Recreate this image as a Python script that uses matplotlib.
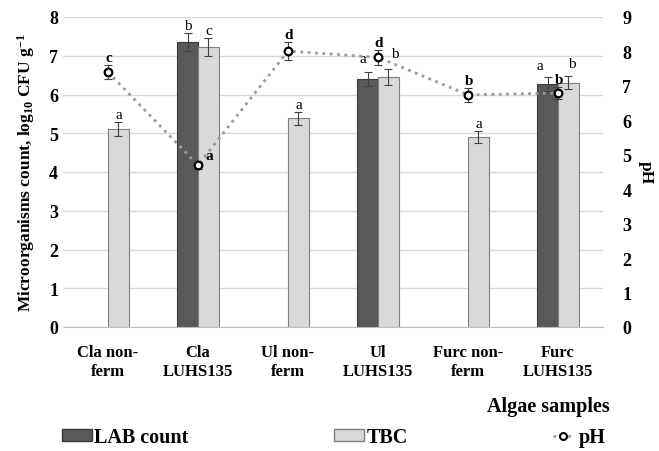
import numpy as np
import matplotlib
matplotlib.use("Agg")
import matplotlib.pyplot as plt
from matplotlib.patches import Patch
from matplotlib.lines import Line2D

# --- data ---
samples = ["Cla non-\nferm", "Cla\nLUHS135", "Ul non-\nferm", "Ul\nLUHS135", "Furc non-\nferm", "Furc\nLUHS135"]
lab = [np.nan, 7.35, np.nan, 6.40, np.nan, 6.27]
lab_err = [np.nan, 0.23, np.nan, 0.18, np.nan, 0.18]
tbc = [5.11, 7.22, 5.39, 6.45, 4.90, 6.30]
tbc_err = [0.18, 0.23, 0.17, 0.20, 0.15, 0.17]
ph = [7.40, 4.70, 8.01, 7.83, 6.74, 6.79]
ph_err = [0.20, 0.10, 0.25, 0.22, 0.20, 0.18]
lab_letters = ["", "b", "", "a", "", "a"]
tbc_letters = ["a", "c", "a", "b", "a", "b"]
ph_letters = ["c", "a", "d", "d", "b", "b"]
left_ticks = list(range(0, 9))
right_ticks = list(range(0, 10))

plt.rcParams['font.family'] = ['Liberation Serif', 'DejaVu Serif']
plt.rcParams['font.weight'] = 'bold'
plt.rcParams['mathtext.fontset'] = 'custom'
plt.rcParams['mathtext.rm'] = 'Liberation Serif:bold'
plt.rcParams['mathtext.default'] = 'rm'

dark = '#595959'
light = '#d9d9d9'

fig = plt.figure(figsize=(6.59, 4.52), dpi=100)
ax = fig.add_axes([63 / 659, 1 - 328 / 452, 540 / 659, 310 / 452])
ax2 = ax.twinx()

x = np.arange(len(samples))
w = 0.233
ax.bar(x - w / 2, lab, w, color=dark, edgecolor='#3a3a3a', linewidth=0.8, zorder=2)
ax.bar(x + w / 2, tbc, w, color=light, edgecolor='#7f7f7f', linewidth=0.8, zorder=2)
ax.errorbar(x - w / 2, lab, yerr=lab_err, fmt='none', ecolor='#404040', elinewidth=0.8, capsize=3, capthick=0.8, zorder=3)
ax.errorbar(x + w / 2, tbc, yerr=tbc_err, fmt='none', ecolor='#404040', elinewidth=0.8, capsize=3, capthick=0.8, zorder=3)

ax.set_xlim(-0.5, 5.5)
ax.set_ylim(0, 8)
ax.set_yticks(left_ticks, labels=[str(v) for v in left_ticks], fontsize=13, fontweight='bold')
ax.yaxis.grid(True, color='#d9d9d9', linewidth=1)
ax.set_axisbelow(True)
for s in ['top', 'left', 'right']:
    ax.spines[s].set_visible(False)
ax.spines['bottom'].set_color('#bfbfbf')
ax.tick_params(axis='both', length=0)
ax.tick_params(axis='x', pad=12)
ax.set_xticks(x, labels=samples, fontsize=12, fontweight='bold', linespacing=1.25)
ax.set_ylabel("Microorganisms count, log$_{10}$ CFU g$^{-1}$", fontsize=12.5, fontweight='bold', labelpad=9)

# pH on the secondary axis
ax2.errorbar(x, ph, yerr=ph_err, fmt='none', ecolor='#404040', elinewidth=0.8, capsize=3, capthick=0.8, zorder=3)
ax2.plot(x, ph, linestyle=':', color='#9a9a9a', linewidth=2, marker='o', markersize=5.5,
         markerfacecolor='white', markeredgecolor='black', markeredgewidth=1.6, zorder=4)
ax2.set_ylim(0, 9)
ax2.set_yticks(right_ticks, labels=[str(v) for v in right_ticks], fontsize=13, fontweight='bold')
for s in ax2.spines.values():
    s.set_visible(False)
ax2.tick_params(axis='y', length=0, pad=14)
ax2.set_ylabel("pH", fontsize=12.5, fontweight='bold', rotation=-90, labelpad=16)

# significance letters (pixel nudges where the reference moved them aside)
lab_nudge = {3: (-5, 10), 5: (-8, 8)}
tbc_nudge = {3: (6, 12), 5: (3, 9)}
ph_nudge = {1: (11, 6)}
for i in range(len(samples)):
    if lab_letters[i]:
        dx, dy = lab_nudge.get(i, (0, 4))
        ax.annotate(lab_letters[i], (x[i] - w / 2, lab[i] + lab_err[i]), xytext=(dx, dy),
                    textcoords='offset pixels', ha='center', va='baseline', fontsize=11, fontweight='normal')
    dx, dy = tbc_nudge.get(i, (0, 4))
    ax.annotate(tbc_letters[i], (x[i] + w / 2, tbc[i] + tbc_err[i]), xytext=(dx, dy),
                textcoords='offset pixels', ha='center', va='baseline', fontsize=11, fontweight='normal')
    if i in ph_nudge:
        dx, dy = ph_nudge[i]
        base = ph[i]
    else:
        dx, dy = (1, 4)
        base = ph[i] + ph_err[i]
    ax2.annotate(ph_letters[i], (x[i], base), xytext=(dx, dy), textcoords='offset pixels',
                 ha='center', va='baseline', fontsize=11, fontweight='bold', zorder=5)

fig.text(610 / 659, 1 - 407 / 452, "Algae samples", ha='right', va='center', fontsize=14.5, fontweight='bold')

# legend entries, placed one by one like the reference
leg_kw = dict(frameon=False, fontsize=14.5, handlelength=1.5, handleheight=0.5, handletextpad=0.1,
              borderpad=0, borderaxespad=0)
l1 = fig.legend([Patch(facecolor=dark, edgecolor='#3a3a3a')], ["LAB count"],
                loc='center left', bbox_to_anchor=(62 / 659, 1 - 438 / 452), **leg_kw)
l2 = fig.legend([Patch(facecolor=light, edgecolor='#7f7f7f')], ["TBC"],
                loc='center left', bbox_to_anchor=(334 / 659, 1 - 438 / 452), **leg_kw)
l3 = fig.legend([Line2D([], [], linestyle=':', color='#9a9a9a', linewidth=2, marker='o', markersize=5,
                        markerfacecolor='white', markeredgecolor='black', markeredgewidth=1.5)], ["pH"],
                loc='center left', bbox_to_anchor=(553 / 659, 1 - 438 / 452),
                **{**leg_kw, 'handlelength': 1.0, 'handletextpad': 0.3})

fig.savefig("out.png", dpi=100)
